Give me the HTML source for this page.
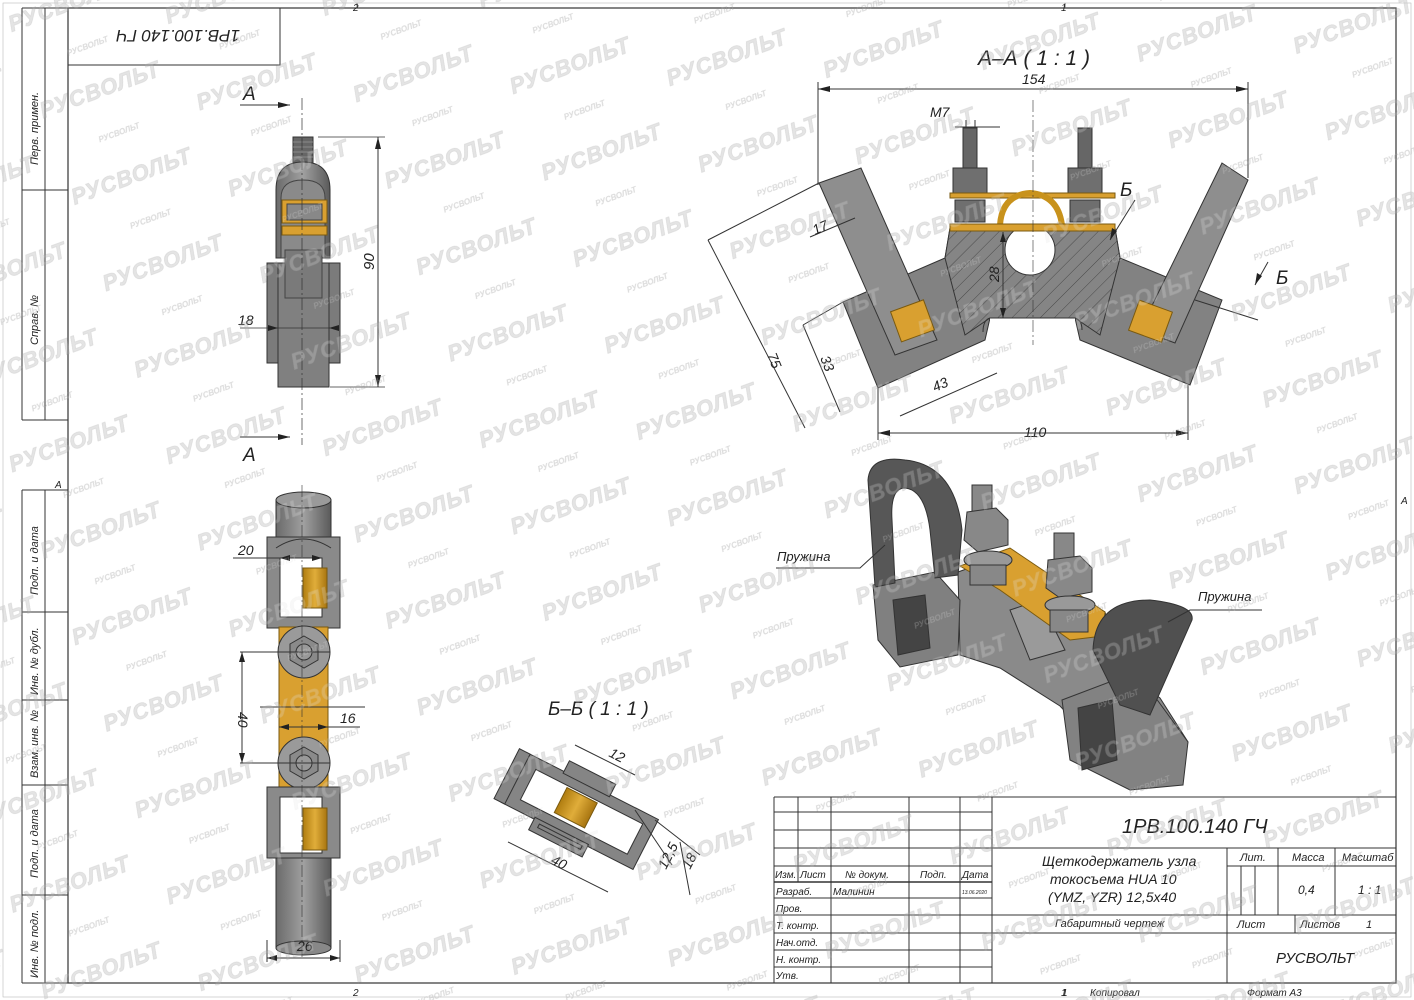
<!DOCTYPE html>
<html><head><meta charset="utf-8">
<style>
html,body{margin:0;padding:0;background:#fff;}
svg{display:block;}
.t{font-family:"Liberation Sans","DejaVu Sans",sans-serif;font-style:italic;fill:#222;}
.ln{stroke:#333;stroke-width:1;fill:none;}
.th{stroke:#555;stroke-width:0.8;fill:none;}
.wm{font-family:"Liberation Sans",sans-serif;font-weight:bold;font-style:italic;fill:#e4e4e4;stroke:#d6d6d6;stroke-width:0.5;}
.ws{font-family:"Liberation Sans",sans-serif;font-weight:bold;font-style:italic;fill:#dcdcdc;}
</style></head><body>
<svg width="1414" height="1000" viewBox="0 0 1414 1000" xmlns="http://www.w3.org/2000/svg">
<defs>
<pattern id="wmp" width="300" height="92" patternUnits="userSpaceOnUse" patternTransform="rotate(-20)">
<text class="wm" x="0" y="34" font-size="22" letter-spacing="1">РУСВОЛЬТ</text>
<text class="ws" x="190" y="30" font-size="8">РУСВОЛЬТ</text>
<text class="wm" x="150" y="80" font-size="22" letter-spacing="1">РУСВОЛЬТ</text>
<text class="ws" x="45" y="76" font-size="8">РУСВОЛЬТ</text>
</pattern>
<pattern id="hatch" width="10" height="10" patternUnits="userSpaceOnUse" patternTransform="rotate(45)">
<rect width="10" height="10" fill="#858585"/><line x1="0" y1="0" x2="0" y2="10" stroke="#4a4a4a" stroke-width="1"/>
</pattern>
<linearGradient id="cyl" x1="0" x2="1"><stop offset="0" stop-color="#6a6a6a"/><stop offset="0.5" stop-color="#a0a0a0"/><stop offset="1" stop-color="#5a5a5a"/></linearGradient>
<linearGradient id="gold" x1="0" x2="1"><stop offset="0" stop-color="#b07d10"/><stop offset="0.5" stop-color="#e0ad3a"/><stop offset="1" stop-color="#a87510"/></linearGradient>
</defs>

<rect x="0" y="0" width="1414" height="1000" fill="url(#wmp)"/>

<!-- frame -->
<rect x="3" y="3" width="1408" height="994" fill="none" stroke="#bbb" stroke-width="0.6"/>
<rect x="68" y="8" width="1328" height="975" fill="none" stroke="#333" stroke-width="1.2"/>
<line x1="357" y1="3" x2="357" y2="8" class="th"/><line x1="1065" y1="3" x2="1065" y2="8" class="th"/>
<text class="t" x="353" y="11" font-size="10">2</text>
<text class="t" x="1061" y="11" font-size="10">1</text>
<text class="t" x="353" y="996" font-size="10">2</text>
<text class="t" x="1061" y="996" font-size="10">1</text>
<text class="t" x="1401" y="504" font-size="10">A</text>
<text class="t" x="55" y="488" font-size="10">A</text>
<g class="ln">
<line x1="22" y1="8" x2="22" y2="420"/><line x1="45" y1="8" x2="45" y2="420"/>
<line x1="22" y1="8" x2="68" y2="8"/><line x1="22" y1="190" x2="68" y2="190"/><line x1="22" y1="420" x2="68" y2="420"/>
<line x1="22" y1="490" x2="22" y2="983"/><line x1="45" y1="490" x2="45" y2="983"/>
<line x1="22" y1="490" x2="68" y2="490"/><line x1="22" y1="612" x2="68" y2="612"/><line x1="22" y1="700" x2="68" y2="700"/><line x1="22" y1="785" x2="68" y2="785"/><line x1="22" y1="895" x2="68" y2="895"/><line x1="22" y1="983" x2="68" y2="983"/>
</g>
<g class="t" font-size="11">
<text transform="translate(38,165) rotate(-90)">Перв. примен.</text>
<text transform="translate(38,345) rotate(-90)">Справ. №</text>
<text transform="translate(38,595) rotate(-90)">Подп. и дата</text>
<text transform="translate(38,695) rotate(-90)">Инв. № дубл.</text>
<text transform="translate(38,778) rotate(-90)">Взам. инв. №</text>
<text transform="translate(38,878) rotate(-90)">Подп. и дата</text>
<text transform="translate(38,978) rotate(-90)">Инв. № подл.</text>
</g>
<rect x="68" y="8" width="212" height="57" class="ln"/>
<text class="t" font-size="17" transform="translate(240,30) rotate(180)">1РВ.100.140 ГЧ</text>

<!-- top-left view -->
<g>
<rect x="293" y="137" width="20" height="26" fill="#666" stroke="#333"/>
<g stroke="#999" stroke-width="0.8"><line x1="293" y1="142" x2="313" y2="142"/><line x1="293" y1="147" x2="313" y2="147"/><line x1="293" y1="152" x2="313" y2="152"/><line x1="293" y1="157" x2="313" y2="157"/></g>
<path d="M276,258 L276,190 Q276,162 303,162 Q330,162 330,190 L330,258 Z" fill="url(#cyl)" stroke="#333"/>
<path d="M281,258 L281,198 Q281,180 303,180 Q325,180 325,198 L325,258 Z" fill="#8a8a8a" stroke="#444"/>
<rect x="282" y="200" width="45" height="23" fill="#d9a030" stroke="#7a5a10"/>
<rect x="287" y="204" width="35" height="16" fill="#888" stroke="#444"/>
<rect x="282" y="226" width="45" height="9" fill="#d9a030" stroke="#7a5a10"/>
<rect x="267" y="263" width="73" height="100" fill="#7b7b7b" stroke="#333"/>
<rect x="278" y="263" width="51" height="124" fill="#808080" stroke="#333"/>
<rect x="285" y="250" width="37" height="48" fill="#7a7a7a" stroke="#444"/>
</g>
<g class="ln">
<line x1="302" y1="98" x2="302" y2="445" stroke-dasharray="12,3,2,3" stroke-width="0.7"/>
<line x1="318" y1="137" x2="385" y2="137" stroke-width="0.7"/><line x1="330" y1="387" x2="385" y2="387" stroke-width="0.7"/>
<line x1="378" y1="137" x2="378" y2="387"/>
<line x1="240" y1="328" x2="330" y2="328" stroke-width="0.8"/>
<line x1="240" y1="105" x2="290" y2="105"/><line x1="240" y1="437" x2="290" y2="437"/>
</g>
<path d="M290,105 l-12,-3 v6z M290,437 l-12,-3 v6z M378,137 l-3,12 h6z M378,387 l-3,-12 h6z M278,328 l-10,-3 v6z M329,328 l10,-3 v6z" fill="#222"/>
<text class="t" x="243" y="100" font-size="19">А</text>
<text class="t" x="243" y="461" font-size="19">А</text>
<text class="t" transform="translate(374,270) rotate(-90)" font-size="15">90</text>
<text class="t" x="238" y="325" font-size="14">18</text>

<!-- bottom-left view -->
<g>
<rect x="276" y="500" width="55" height="40" fill="url(#cyl)" stroke="#333"/>
<ellipse cx="303.5" cy="500" rx="27.5" ry="8" fill="#9a9a9a" stroke="#333"/>
<rect x="267" y="537" width="73" height="91" fill="#8a8a8a" stroke="#333"/>
<rect x="280" y="558" width="42" height="59" fill="#fff" stroke="#333"/>
<path d="M276,548 Q303,530 331,548" fill="none" stroke="#333"/>
<rect x="303" y="568" width="24" height="40" fill="url(#gold)" stroke="#7a5a10"/>
<rect x="279" y="627" width="49" height="160" fill="#d9a030" stroke="#7a5a10"/>
<circle cx="304" cy="652" r="26" fill="#9a9a9a" stroke="#333"/>
<polygon points="304,636 318,644 318,660 304,668 290,660 290,644" fill="#8a8a8a" stroke="#333"/>
<circle cx="304" cy="652" r="8" fill="#999" stroke="#333"/>
<circle cx="304" cy="763" r="26" fill="#9a9a9a" stroke="#333"/>
<polygon points="304,747 318,755 318,771 304,779 290,771 290,755" fill="#8a8a8a" stroke="#333"/>
<circle cx="304" cy="763" r="8" fill="#999" stroke="#333"/>
<rect x="267" y="787" width="73" height="71" fill="#8a8a8a" stroke="#333"/>
<rect x="280" y="797" width="42" height="56" fill="#fff" stroke="#333"/>
<rect x="303" y="808" width="24" height="42" fill="url(#gold)" stroke="#7a5a10"/>
<rect x="276" y="858" width="55" height="90" fill="url(#cyl)" stroke="#333"/>
<ellipse cx="303.5" cy="948" rx="27.5" ry="7" fill="#888" stroke="#333"/>
</g>
<g class="ln" stroke-width="0.8">
<line x1="302" y1="485" x2="302" y2="960" stroke-dasharray="12,3,2,3" stroke-width="0.6"/>
<line x1="233" y1="558" x2="322" y2="558"/>
<line x1="240" y1="652" x2="330" y2="652"/><line x1="240" y1="763" x2="330" y2="763"/>
<line x1="242" y1="652" x2="242" y2="763"/>
<line x1="260" y1="707" x2="365" y2="707"/>
<line x1="279" y1="727" x2="360" y2="727"/>
<line x1="267" y1="940" x2="267" y2="962"/><line x1="340" y1="940" x2="340" y2="962"/>
<line x1="267" y1="958" x2="340" y2="958"/>
</g>
<path d="M242,652 l-3,10 h6z M242,763 l-3,-10 h6z M280,558 l10,-3 v6z M322,558 l-10,-3 v6z M279,727 l10,-3 v6z M328,727 l-10,-3 v6z M267,958 l10,-3 v6z M340,958 l-10,-3 v6z" fill="#222"/>
<text class="t" x="238" y="555" font-size="14">20</text>
<text class="t" transform="translate(238,712) rotate(90)" font-size="14">40</text>
<text class="t" x="340" y="723" font-size="14">16</text>
<text class="t" x="297" y="951" font-size="14">26</text>

<!-- A-A -->
<text class="t" x="978" y="65" font-size="21">А–А ( 1 : 1 )</text>
<g class="ln" stroke-width="0.8">
<line x1="818" y1="89" x2="1248" y2="89"/>
<line x1="818" y1="82" x2="818" y2="185"/><line x1="1248" y1="82" x2="1248" y2="178"/>
<line x1="955" y1="127" x2="1000" y2="127"/>
<line x1="966" y1="120" x2="966" y2="138"/><line x1="975" y1="120" x2="975" y2="138"/>
</g>
<path d="M818,89 l12,-3 v6z M1248,89 l-12,-3 v6z" fill="#222"/>
<text class="t" x="1022" y="84" font-size="14">154</text>
<text class="t" x="930" y="117" font-size="14">М7</text>
<polygon points="843,302 945,258 950,228 1115,228 1120,258 1222,300 1190,385 1080,340 1075,318 990,318 985,340 878,388" fill="#828282" stroke="#333"/>
<polygon points="950,228 1115,228 1120,258 1100,335 1075,318 990,318 965,335 945,258" fill="url(#hatch)" stroke="#333"/>
<circle cx="1030" cy="250" r="25" fill="#fff" stroke="#333"/>
<rect x="990" y="318" width="85" height="12" fill="#fff"/>
<path d="M990,318 L1075,318 Q1082,320 1082,330 M990,318 Q983,320 983,332" fill="none" stroke="#333"/>
<polygon points="819,183 861,168 937,340 895,355" fill="#8e8e8e" stroke="#333"/>
<polygon points="1222,163 1248,180 1175,343 1140,330" fill="#8e8e8e" stroke="#333"/>
<rect x="895" y="305" width="35" height="32" fill="#d9a030" stroke="#7a5a10" transform="rotate(-20 912 321)"/>
<rect x="1133" y="305" width="35" height="32" fill="#d9a030" stroke="#7a5a10" transform="rotate(20 1150 321)"/>
<g>
<rect x="963" y="128" width="14" height="40" fill="#666" stroke="#333"/>
<rect x="1078" y="128" width="14" height="40" fill="#666" stroke="#333"/>
<rect x="953" y="168" width="34" height="25" fill="#6f6f6f" stroke="#333"/>
<rect x="1068" y="168" width="34" height="25" fill="#6f6f6f" stroke="#333"/>
<rect x="955" y="200" width="30" height="22" fill="#6f6f6f" stroke="#333"/>
<rect x="1070" y="200" width="30" height="22" fill="#6f6f6f" stroke="#333"/>
<rect x="950" y="193" width="165" height="5" fill="#d9a030" stroke="#7a5a10"/>
<path d="M1000,225 Q1002,195 1030,193 Q1058,195 1062,225" fill="none" stroke="#c8921c" stroke-width="6"/>
<rect x="950" y="224" width="165" height="7" fill="#d9a030" stroke="#7a5a10"/>
</g>
<g class="ln" stroke-width="0.8">
<line x1="1033" y1="100" x2="1033" y2="345" stroke-dasharray="12,3,2,3" stroke-width="0.6"/>
<line x1="1003" y1="232" x2="1003" y2="318"/>
<line x1="708" y1="240" x2="805" y2="428"/>
<line x1="708" y1="240" x2="819" y2="183"/>
<line x1="803" y1="325" x2="843" y2="302"/><line x1="803" y1="325" x2="840" y2="412"/>
<line x1="900" y1="416" x2="997" y2="373"/>
<line x1="878" y1="388" x2="878" y2="440"/><line x1="1188" y1="385" x2="1188" y2="440"/>
<line x1="878" y1="433" x2="1188" y2="433"/>
<line x1="810" y1="237" x2="855" y2="218"/>
<line x1="1110" y1="240" x2="1135" y2="200"/>
<line x1="1255" y1="285" x2="1268" y2="262"/>
<line x1="1195" y1="300" x2="1258" y2="320"/>
</g>
<path d="M878,433 l12,-3 v6z M1188,433 l-12,-3 v6z M1003,232 l-3,10 h6z M1003,318 l-3,-10 h6z M1110,240 l2,-12 5,3z M1255,285 l2,-12 5,3z" fill="#222"/>
<text class="t" x="1024" y="437" font-size="14">110</text>
<text class="t" transform="translate(999,282) rotate(-90)" font-size="14">28</text>
<text class="t" transform="translate(767,355) rotate(68)" font-size="14">75</text>
<text class="t" transform="translate(820,358) rotate(68)" font-size="14">33</text>
<text class="t" transform="translate(935,392) rotate(-24)" font-size="14">43</text>
<text class="t" transform="translate(815,235) rotate(-24)" font-size="14">17</text>
<text class="t" x="1120" y="196" font-size="19">Б</text>
<text class="t" x="1276" y="284" font-size="19">Б</text>

<!-- isometric -->
<g stroke="#333" stroke-width="1">
<polygon points="958,572 1005,555 1105,612 1120,668 1160,698 1188,742 1175,783 1120,770 1060,706 1000,668 960,655" fill="#8a8a8a"/>
<polygon points="873,585 935,572 960,600 958,655 900,667 878,640" fill="#808080"/>
<polygon points="893,600 925,595 930,648 898,655" fill="#444"/>
<polygon points="1062,700 1120,678 1150,690 1188,742 1183,785 1130,790 1070,760" fill="#828282"/>
<polygon points="1078,708 1112,700 1117,760 1082,770" fill="#444"/>
<polygon points="1010,610 1040,600 1065,650 1030,660" fill="#9a9a9a"/>
<polygon points="960,566 1010,548 1105,612 1103,636 1070,640 1000,590" fill="#d9a030" stroke="#7a5a10"/>
<path d="M868,480 Q870,455 905,460 Q955,465 962,530 L958,575 L935,578 L930,530 Q925,490 905,488 Q890,488 892,520 L895,583 L875,587 Z" fill="#575757"/>
<path d="M1093,650 Q1095,600 1150,600 Q1195,605 1192,620 L1150,715 L1120,705 Z" fill="#505050"/>
<rect x="972" y="485" width="20" height="28" fill="#888"/>
<polygon points="967,512 996,508 1008,520 1008,545 978,552 964,540" fill="#888"/>
<ellipse cx="988" cy="560" rx="24" ry="9" fill="#999"/>
<rect x="970" y="565" width="36" height="20" fill="#888"/>
<rect x="1054" y="533" width="20" height="28" fill="#888"/>
<polygon points="1048,560 1080,556 1092,568 1092,592 1060,598 1046,588" fill="#888"/>
<ellipse cx="1070" cy="605" rx="25" ry="9" fill="#999"/>
<rect x="1050" y="610" width="38" height="22" fill="#888"/>
</g>
<g class="ln" stroke-width="0.8">
<polyline points="776,568 860,568 885,545"/>
<polyline points="1262,610 1190,610 1168,622"/>
</g>
<text class="t" x="777" y="561" font-size="13">Пружина</text>
<text class="t" x="1198" y="601" font-size="13">Пружина</text>

<!-- B-B -->
<text class="t" x="548" y="715" font-size="19">Б–Б ( 1 : 1 )</text>
<g transform="translate(578,810) rotate(27)">
<rect x="-72" y="-28" width="148" height="56" fill="#858585" stroke="#333"/>
<rect x="-30" y="-40" width="52" height="14" fill="#858585" stroke="#333"/>
<rect x="-35" y="26" width="60" height="14" fill="#858585" stroke="#333"/>
<rect x="-56" y="-17" width="120" height="34" fill="#fff" stroke="#333"/>
<rect x="-20" y="-15" width="34" height="28" fill="url(#gold)" stroke="#7a5a10"/>
<rect x="-28" y="30" width="48" height="4" fill="none" stroke="#333"/>
<rect x="-80" y="-28" width="12" height="56" fill="#858585" stroke="#333"/>
</g>
<g class="ln" stroke-width="0.8">
<line x1="575" y1="745" x2="635" y2="775"/>
<line x1="508" y1="842" x2="608" y2="892"/>
<line x1="635" y1="810" x2="672" y2="865"/>
<line x1="655" y1="820" x2="700" y2="855"/>
<line x1="680" y1="842" x2="690" y2="895"/>
</g>
<text class="t" transform="translate(608,756) rotate(27)" font-size="14">12</text>
<text class="t" transform="translate(550,863) rotate(27)" font-size="14">40</text>
<text class="t" transform="translate(666,870) rotate(-63)" font-size="14">12,5</text>
<text class="t" transform="translate(690,870) rotate(-63)" font-size="14">18</text>

<!-- title block -->
<g class="ln">
<line x1="774" y1="797" x2="1396" y2="797"/>
<line x1="774" y1="797" x2="774" y2="983"/>
<line x1="992" y1="797" x2="992" y2="983"/>
<line x1="798" y1="797" x2="798" y2="882"/>
<line x1="831" y1="797" x2="831" y2="983"/>
<line x1="909" y1="797" x2="909" y2="983"/>
<line x1="960" y1="797" x2="960" y2="983"/>
<line x1="774" y1="812" x2="992" y2="812"/>
<line x1="774" y1="830" x2="992" y2="830"/>
<line x1="774" y1="848" x2="1396" y2="848"/>
<line x1="774" y1="866" x2="992" y2="866"/>
<line x1="774" y1="882" x2="992" y2="882" stroke-width="1.5"/>
<line x1="774" y1="898" x2="992" y2="898"/>
<line x1="774" y1="915" x2="1396" y2="915"/>
<line x1="774" y1="933" x2="1396" y2="933"/>
<line x1="774" y1="950" x2="992" y2="950"/>
<line x1="774" y1="967" x2="992" y2="967"/>
<line x1="1227" y1="848" x2="1227" y2="983"/>
<line x1="1278" y1="848" x2="1278" y2="915"/>
<line x1="1335" y1="848" x2="1335" y2="915"/>
<line x1="1227" y1="866" x2="1396" y2="866"/>
<line x1="1241" y1="866" x2="1241" y2="915"/>
<line x1="1255" y1="866" x2="1255" y2="915"/>
<line x1="1295" y1="915" x2="1295" y2="933"/>
</g>
<g class="t">
<text x="1122" y="833" font-size="20">1РВ.100.140 ГЧ</text>
<text x="1042" y="866" font-size="14">Щеткодержатель узла</text>
<text x="1050" y="884" font-size="14">токосъема HUA 10</text>
<text x="1048" y="902" font-size="14">(YMZ, YZR) 12,5x40</text>
<text x="1055" y="927" font-size="11">Габаритный чертеж</text>
<text x="1240" y="861" font-size="11">Лит.</text>
<text x="1292" y="861" font-size="11">Масса</text>
<text x="1342" y="861" font-size="11">Масштаб</text>
<text x="1298" y="894" font-size="12">0,4</text>
<text x="1358" y="894" font-size="12">1 : 1</text>
<text x="1237" y="928" font-size="11">Лист</text>
<text x="1300" y="928" font-size="11">Листов</text>
<text x="1366" y="928" font-size="11">1</text>
<text x="1276" y="963" font-size="15">РУСВОЛЬТ</text>
<text x="775" y="878" font-size="10">Изм.</text>
<text x="800" y="878" font-size="10">Лист</text>
<text x="845" y="878" font-size="10">№ докум.</text>
<text x="920" y="878" font-size="10">Подп.</text>
<text x="962" y="878" font-size="10">Дата</text>
<text x="776" y="895" font-size="10">Разраб.</text>
<text x="833" y="895" font-size="10">Малинин</text>
<text x="962" y="894" font-size="5">13.06.2020</text>
<text x="776" y="912" font-size="10">Пров.</text>
<text x="776" y="929" font-size="10">Т. контр.</text>
<text x="776" y="946" font-size="10">Нач.отд.</text>
<text x="776" y="963" font-size="10">Н. контр.</text>
<text x="776" y="979" font-size="10">Утв.</text>
<text x="1062" y="996" font-size="10">1</text>
<text x="1090" y="996" font-size="10">Копировал</text>
<text x="1247" y="996" font-size="10">Формат А3</text>
</g>
<rect x="0" y="0" width="1414" height="1000" fill="url(#wmp)" opacity="0.25"/>
</svg>
</body></html>
